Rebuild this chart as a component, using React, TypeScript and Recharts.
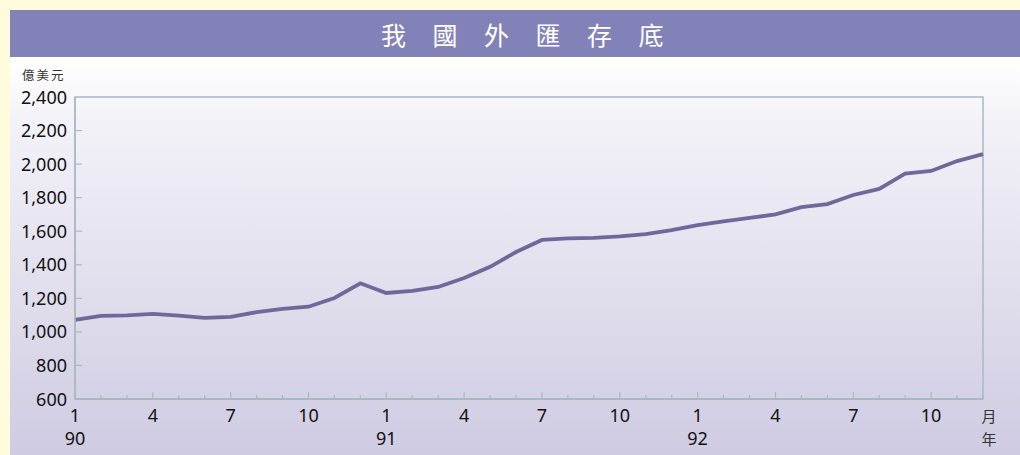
import React from 'react';
import { LineChart, Line, XAxis, YAxis, ReferenceArea } from 'recharts';

// 90/1 .. 92/12, 億美元
const years = ['90', '91', '92'];
const months = [1, 2, 3, 4, 5, 6, 7, 8, 9, 10, 11, 12];
const reserves = [
  1071, 1095, 1098, 1107, 1097, 1084, 1089, 1118, 1137, 1150, 1202, 1290,
  1232, 1244, 1268, 1321, 1388, 1476, 1548, 1557, 1560, 1569, 1583, 1607,
  1637, 1658, 1679, 1700, 1744, 1762, 1816, 1852, 1944, 1959, 2018, 2060,
];
const yTicks = [600, 800, 1000, 1200, 1400, 1600, 1800, 2000, 2200, 2400];
const majorMonths = [1, 4, 7, 10];

const data = reserves.map((v, i) => ({
  key: years[Math.floor(i / 12)] + '-' + months[i % 12],
  year: years[Math.floor(i / 12)],
  month: months[i % 12],
  value: v,
}));

const axisColor = '#a9b9c2';
const tickFont = '"Noto Sans", sans-serif';

const MonthTick = (props: any) => {
  const { x, y, payload } = props;
  const d = data[payload.index];
  const major = majorMonths.includes(d.month);
  const last = payload.index === data.length - 1;
  return (
    <g>
      <line x1={x} x2={x} y1={y - 1} y2={y - (major ? 7 : 4)} stroke={axisColor} strokeWidth={1.2} />
      {major && (
        <text x={x} y={y + 23} textAnchor="middle" fontSize={18} fontFamily={tickFont} fill="#111">
          {d.month}
        </text>
      )}
      {d.month === 1 && (
        <text x={x} y={y + 46} textAnchor="middle" fontSize={18} fontFamily={tickFont} fill="#111">
          {d.year}
        </text>
      )}
      {last && (
        <g fontFamily='"Noto Sans CJK TC", sans-serif' fontSize={15} fill="#333">
          <text x={x + 6} y={y + 23} textAnchor="middle">月</text>
          <text x={x + 6} y={y + 46} textAnchor="middle">年</text>
        </g>
      )}
    </g>
  );
};

const ValueTick = (props: any) => {
  const { x, y, payload } = props;
  return (
    <g>
      {payload.value !== 600 && payload.value !== 2400 && (
        <line x1={x + 1} x2={x + 7} y1={y} y2={y} stroke={axisColor} strokeWidth={1.2} />
      )}
      <text x={x - 8} y={y + 6.5} textAnchor="end" fontSize={18} fontFamily={tickFont} fill="#111">
        {payload.value.toLocaleString('en-US')}
      </text>
    </g>
  );
};

export default function App() {
  return (
    <div style={{ position: 'absolute', left: 0, top: 0, width: 1020, height: 455, background: '#fffbdc', overflow: 'hidden' }}>
      <div style={{ position: 'absolute', left: 10, top: 10, width: 1010, height: 445, background: 'linear-gradient(to bottom, #ffffff 0px, #ffffff 50px, #f3f2f8 110px, #cfcbe2 445px)' }} />
      <div style={{ position: 'absolute', left: 10, top: 10, width: 1010, height: 47, background: '#8282b9' }} />
      <div
        style={{
          position: 'absolute',
          left: 381,
          top: 16,
          fontFamily: '"Noto Sans CJK TC", sans-serif',
          fontSize: 25,
          letterSpacing: 26.5,
          color: '#ffffff',
          whiteSpace: 'nowrap',
        }}
      >
        我國外匯存底
      </div>
      <div
        style={{
          position: 'absolute',
          left: 22,
          top: 65,
          fontFamily: '"Noto Sans CJK TC", sans-serif',
          fontSize: 12.5,
          letterSpacing: 2,
          color: '#333',
        }}
      >
        億美元
      </div>
      <div style={{ position: 'absolute', left: 0, top: 0 }}>
        <LineChart width={1020} height={455} data={data} margin={{ top: 97, right: 37, bottom: 26, left: 10 }}>
          <XAxis
            dataKey="key"
            interval={0}
            height={30}
            padding={{ left: 0, right: 0 }}
            axisLine={{ stroke: axisColor, strokeWidth: 2 }}
            tickLine={false}
            tickSize={0}
            tickMargin={0}
            tick={<MonthTick />}
          />
          <YAxis
            domain={[600, 2400]}
            ticks={yTicks}
            width={65}
            interval={0}
            axisLine={{ stroke: axisColor, strokeWidth: 1.5 }}
            tickLine={false}
            tickSize={0}
            tickMargin={0}
            tick={<ValueTick />}
          />
          <ReferenceArea
            x1="90-1"
            x2="92-12"
            y1={600}
            y2={2400}
            fill="none"
            fillOpacity={0}
            stroke={axisColor}
            strokeWidth={1.5}
            ifOverflow="visible"
          />
          <Line
            type="linear"
            dataKey="value"
            stroke="#71679a"
            strokeWidth={3.8}
            dot={false}
            isAnimationActive={false}
          />
        </LineChart>
      </div>
    </div>
  );
}
